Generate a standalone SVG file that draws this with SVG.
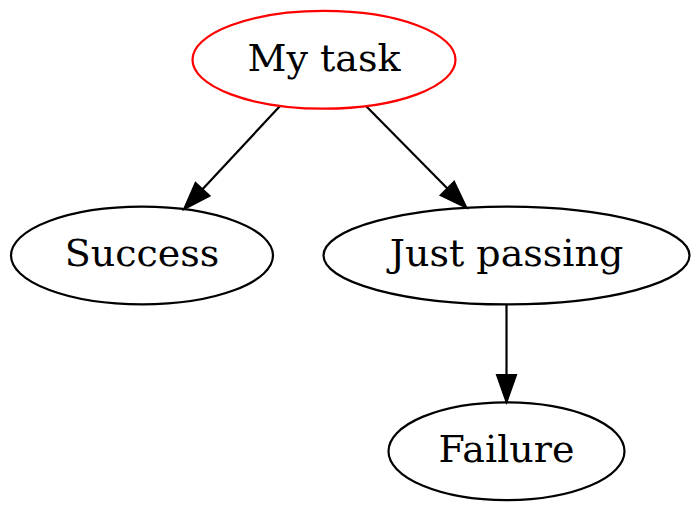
<svg xmlns="http://www.w3.org/2000/svg" width="700" height="511" viewBox="0 0 700 511">
<style>
  .node ellipse { fill: none; stroke: #000; stroke-width: 2.2; }
  .node text { font-family: "DejaVu Serif", "Liberation Serif", serif; font-size: 38px; fill: #000; text-anchor: middle; }
  .edge { fill: none; stroke: #000; stroke-width: 2.2; marker-end: url(#arrow); }
</style>
<defs>
  <marker id="arrow" markerUnits="userSpaceOnUse" viewBox="0 0 27 19" refX="0" refY="9.5" markerWidth="27" markerHeight="19" orient="auto" overflow="visible">
    <path d="M0,0 L27,9.5 L0,19 z" fill="#000" stroke="#000" stroke-width="2"/>
  </marker>
</defs>
<rect width="700" height="511" fill="#fff"/>
<g id="connectors">
  <path class="edge" d="M280,106 L202.5,189.3"/>
  <path class="edge" d="M366,106.1 L447.4,188.5"/>
  <path class="edge" d="M506.5,304.4 L506.5,375.1"/>
</g>
<g id="node-mytask" class="node">
  <ellipse cx="324" cy="59.8" rx="131.5" ry="48.9" style="stroke:#ff0000"/>
  <text x="324" y="70.5">My task</text>
</g>
<g id="node-success" class="node">
  <ellipse cx="142" cy="255.5" rx="131" ry="48.9"/>
  <text x="142" y="266.2">Success</text>
</g>
<g id="node-justpassing" class="node">
  <ellipse cx="506.5" cy="255.5" rx="183" ry="48.9"/>
  <text x="506.5" y="266.2">Just passing</text>
</g>
<g id="node-failure" class="node">
  <ellipse cx="506.5" cy="451.2" rx="118" ry="48.9"/>
  <text x="506.5" y="461.9">Failure</text>
</g>
</svg>
